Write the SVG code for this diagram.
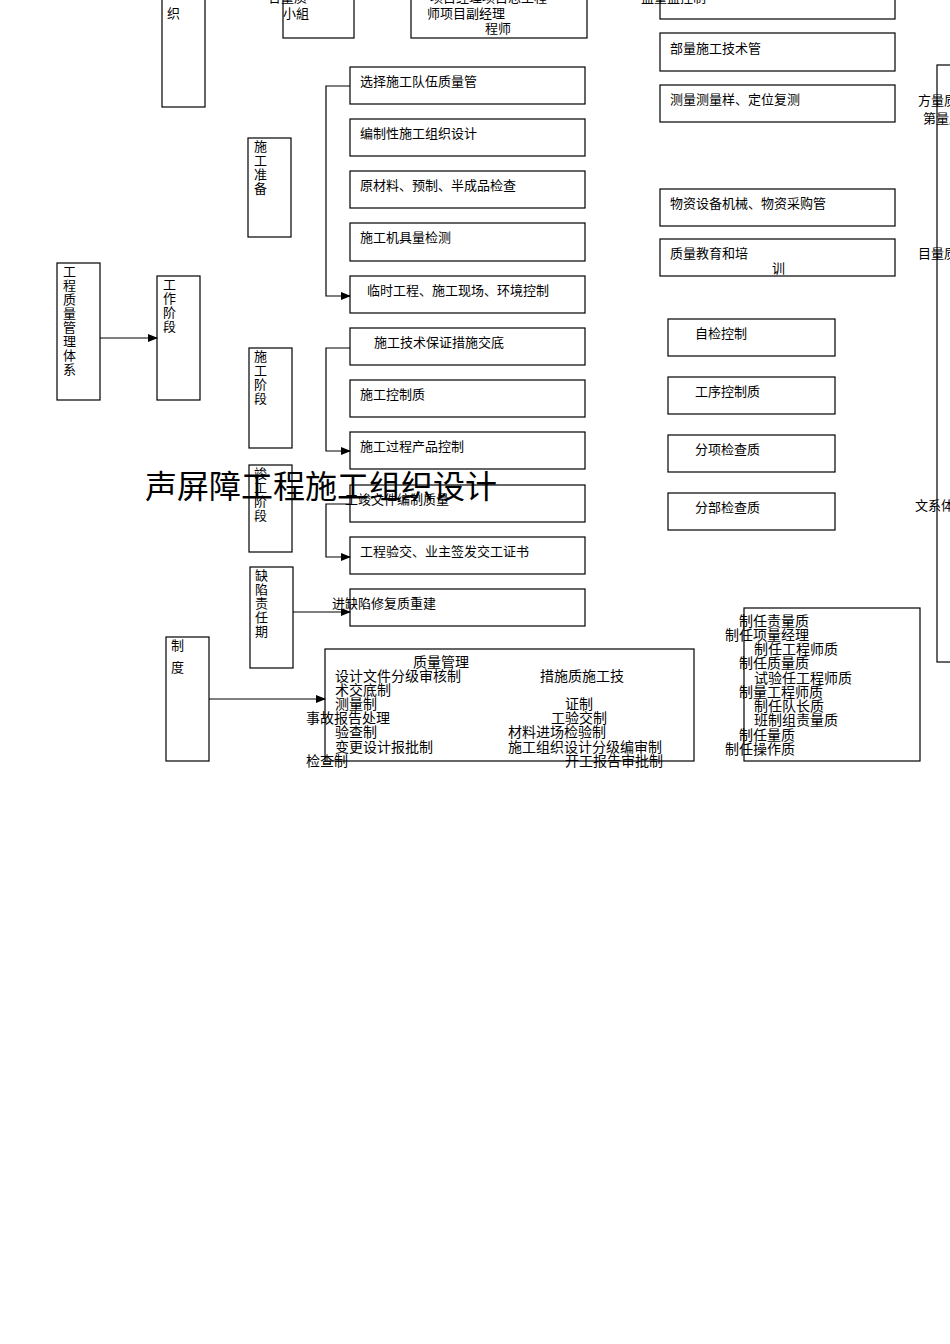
<svg xmlns="http://www.w3.org/2000/svg" width="950" height="1344" viewBox="0 0 950 1344">
<defs>
<marker id="arr" markerWidth="10" markerHeight="8" refX="9" refY="4" orient="auto" markerUnits="userSpaceOnUse">
<path d="M0,0 L10,4 L0,8 z" fill="#000"/>
</marker>
<style>
rect{fill:#fff;stroke:#000;stroke-width:1.2}
text{font-family:"Liberation Sans","Noto Sans CJK SC",sans-serif;font-size:13px;fill:#000}
.s{font-size:14px}
.t{font-size:32px}
.c line,.c polyline{stroke:#000;stroke-width:1.2;fill:none}
</style>
</defs>
<rect x="0" y="0" width="950" height="1344" style="fill:#fff;stroke:none"/>

<g id="top-left-box"><rect x="162" y="-10" width="43" height="117"/><text x="167" y="18">织</text></g>
<g id="top-group-box"><rect x="283" y="-10" width="71" height="48"/><text x="268" y="2">合量质</text><text x="283" y="18">小組</text></g>
<g id="top-manager-box"><rect x="411" y="-10" width="176" height="48"/><text x="430" y="2">项目经理项目总工程</text><text x="427" y="18">师项目副经理</text><text x="485" y="33">程师</text></g>
<g id="top-right-box"><rect x="660" y="-10" width="235" height="29"/><text x="641" y="2">监量监控制</text></g>

<g id="r1"><rect x="660" y="33" width="235" height="38"/><text x="670" y="53">部量施工技术管</text></g>
<g id="r2"><rect x="660" y="85" width="235" height="37"/><text x="670" y="104">测量测量样、定位复测</text></g>
<g id="r3"><rect x="660" y="189" width="235" height="37"/><text x="670" y="208">物资设备机械、物资采购管</text></g>
<g id="r4"><rect x="660" y="239" width="235" height="37"/><text x="670" y="258">质量教育和培</text><text x="772" y="273">训</text></g>

<g id="right-tall"><rect x="937" y="65" width="30" height="597"/><text x="918" y="105">方量质</text><text x="923" y="123">第量质</text><text x="918" y="258">目量质</text><text x="915" y="510">文系体</text></g>

<g id="m1"><rect x="350" y="67" width="235" height="37"/><text x="360" y="86">选择施工队伍质量管</text></g>
<g id="m2"><rect x="350" y="119" width="235" height="37"/><text x="360" y="138">编制性施工组织设计</text></g>
<g id="m3"><rect x="350" y="171" width="235" height="37"/><text x="360" y="190">原材料、预制、半成品检查</text></g>
<g id="m4"><rect x="350" y="223" width="235" height="38"/><text x="360" y="242">施工机具量检测</text></g>
<g id="m5"><rect x="350" y="276" width="235" height="37"/><text x="367" y="295">临时工程、施工现场、环境控制</text></g>
<g id="m6"><rect x="350" y="328" width="235" height="37"/><text x="374" y="347">施工技术保证措施交底</text></g>
<g id="m7"><rect x="350" y="380" width="235" height="37"/><text x="360" y="399">施工控制质</text></g>
<g id="m8"><rect x="350" y="432" width="235" height="37"/><text x="360" y="451">施工过程产品控制</text></g>
<g id="m9"><rect x="350" y="485" width="235" height="37"/><text x="345" y="504">工竣文件编制质量</text></g>
<g id="m10"><rect x="350" y="537" width="235" height="37"/><text x="360" y="556">工程验交、业主签发交工证书</text></g>
<g id="m11"><rect x="350" y="589" width="235" height="37"/><text x="332" y="608">进缺陷修复质重建</text></g>

<g id="q1"><rect x="668" y="319" width="167" height="37"/><text x="695" y="338">自检控制</text></g>
<g id="q2"><rect x="668" y="377" width="167" height="37"/><text x="695" y="396">工序控制质</text></g>
<g id="q3"><rect x="668" y="435" width="167" height="37"/><text x="695" y="454">分项检查质</text></g>
<g id="q4"><rect x="668" y="493" width="167" height="37"/><text x="695" y="512">分部检查质</text></g>

<g id="system"><rect x="57" y="263" width="43" height="137"/>
<text x="63" y="276">工</text><text x="63" y="290">程</text><text x="63" y="304">质</text><text x="63" y="318">量</text><text x="63" y="332">管</text><text x="63" y="346">理</text><text x="63" y="360">体</text><text x="63" y="374">系</text></g>
<g id="stage"><rect x="157" y="276" width="43" height="124"/>
<text x="163" y="289">工</text><text x="163" y="303">作</text><text x="163" y="317">阶</text><text x="163" y="331">段</text></g>
<g id="prep"><rect x="248" y="138" width="43" height="99"/>
<text x="254" y="151">施</text><text x="254" y="165">工</text><text x="254" y="179">准</text><text x="254" y="193">备</text></g>
<g id="constr"><rect x="249" y="348" width="43" height="100"/>
<text x="254" y="361">施</text><text x="254" y="375">工</text><text x="254" y="389">阶</text><text x="254" y="403">段</text></g>
<g id="final"><rect x="249" y="465" width="43" height="87"/>
<text x="254" y="478">竣</text><text x="254" y="492">工</text><text x="254" y="506">阶</text><text x="254" y="520">段</text></g>
<g id="defect"><rect x="250" y="567" width="43" height="101"/>
<text x="255" y="580">缺</text><text x="255" y="594">陷</text><text x="255" y="608">责</text><text x="255" y="622">任</text><text x="255" y="636">期</text></g>
<g id="rules"><rect x="166" y="637" width="43" height="124"/><text x="171" y="650">制</text><text x="171" y="672">度</text></g>

<g id="rule-list"><rect x="325" y="649" width="369" height="112"/>
<text class="s" x="413" y="667">质量管理</text>
<text class="s" x="335" y="681">设计文件分级审核制</text>
<text class="s" x="335" y="695">术交底制</text>
<text class="s" x="335" y="709">测量制</text>
<text class="s" x="306" y="723">事故报告处理</text>
<text class="s" x="335" y="737">验查制</text>
<text class="s" x="335" y="752">变更设计报批制</text>
<text class="s" x="306" y="766">检查制</text>
<text class="s" x="540" y="681">措施质施工技</text>
<text class="s" x="565" y="709">证制</text>
<text class="s" x="551" y="723">工验交制</text>
<text class="s" x="508" y="737">材料进场检验制</text>
<text class="s" x="508" y="752">施工组织设计分级编审制</text>
<text class="s" x="565" y="766">开工报告审批制</text>
</g>

<g id="resp-list"><rect x="744" y="608" width="176" height="153"/>
<text class="s" x="739" y="626">制任责量质</text>
<text class="s" x="725" y="640">制任项量经理</text>
<text class="s" x="754" y="654">制任工程师质</text>
<text class="s" x="739" y="668">制任质量质</text>
<text class="s" x="754" y="683">试验任工程师质</text>
<text class="s" x="739" y="697">制量工程师质</text>
<text class="s" x="754" y="711">制任队长质</text>
<text class="s" x="754" y="725">班制组责量质</text>
<text class="s" x="739" y="740">制任量质</text>
<text class="s" x="725" y="754">制任操作质</text>
</g>

<g id="connectors" class="c">
<line x1="100" y1="338" x2="157" y2="338" marker-end="url(#arr)"/>
<polyline points="350,86 326,86 326,296 350,296" marker-end="url(#arr)"/>
<polyline points="350,348 326,348 326,451 350,451" marker-end="url(#arr)"/>
<polyline points="350,504 326,504 326,557 350,557" marker-end="url(#arr)"/>
<line x1="293" y1="612" x2="350" y2="612" marker-end="url(#arr)"/>
<line x1="209" y1="699" x2="325" y2="699" marker-end="url(#arr)"/>
</g>

<g id="title"><text class="t" x="145" y="498">声屏障工程施工组织设计</text></g>
</svg>
